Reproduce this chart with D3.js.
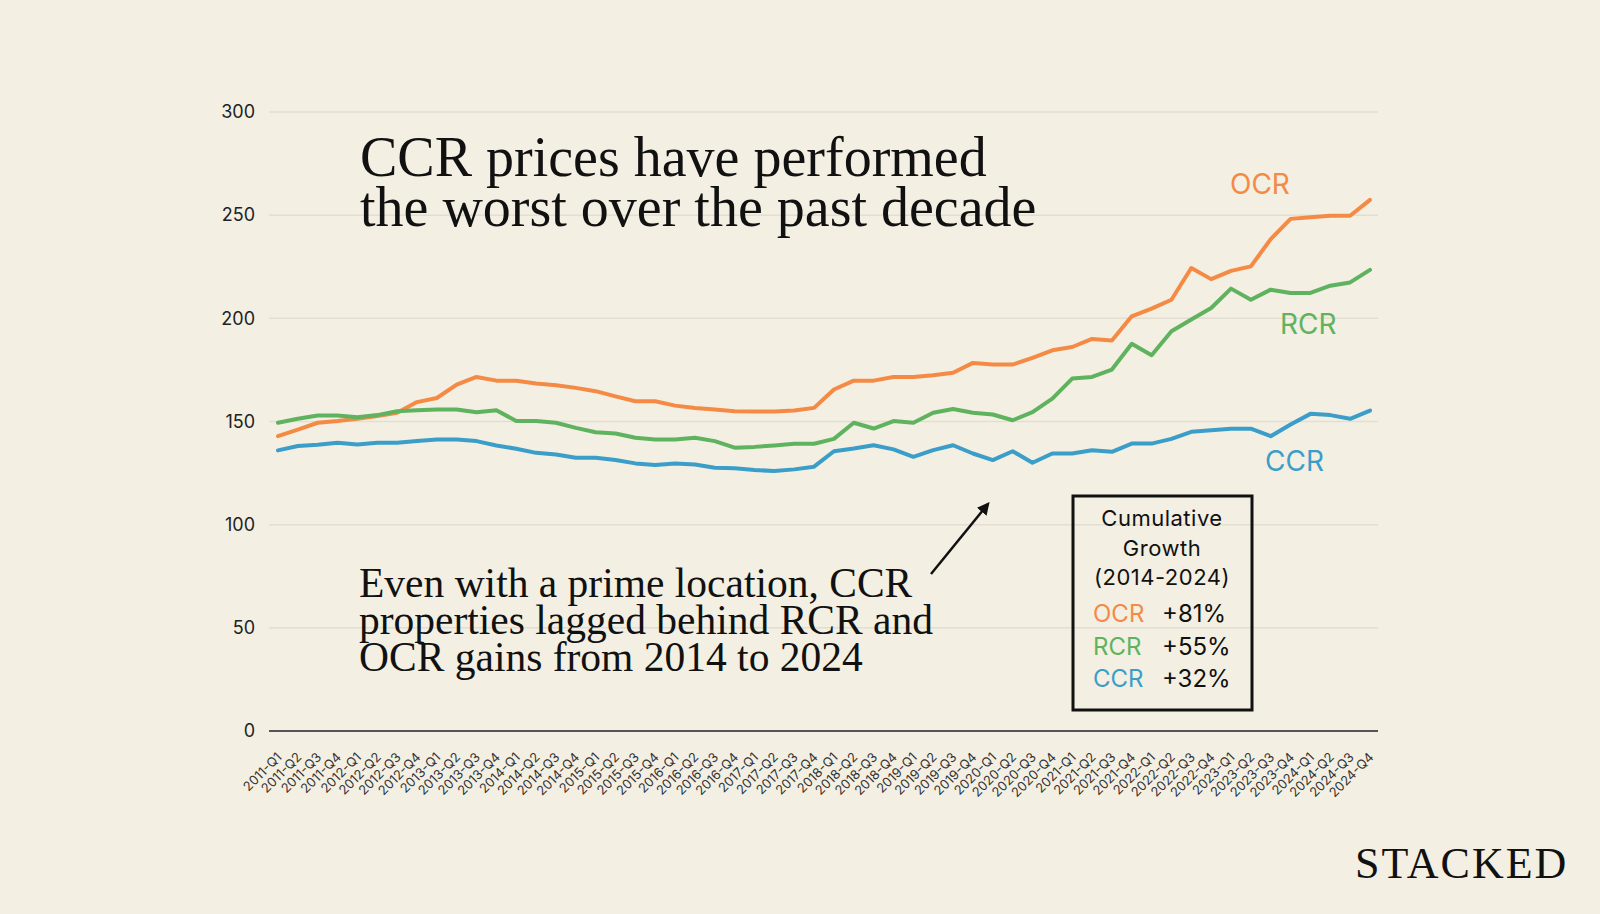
<!DOCTYPE html>
<html>
<head>
<meta charset="utf-8">
<script src="https://cdn.jsdelivr.net/npm/d3@7"></script>
<style>
  html, body { margin: 0; padding: 0; background: #f3efe3; }
  svg { display: block; }
  .serif { font-family: "Liberation Serif", "DejaVu Serif", serif; fill: #111; }
  .sans { font-family: Inter, "Noto Sans", sans-serif; }
</style>
</head>
<body>
<div id="chart"></div>
<script>
// Quarterly price index per region
const years = [2011, 2012, 2013, 2014, 2015, 2016, 2017, 2018, 2019, 2020, 2021, 2022, 2023, 2024];
const quarters = years.flatMap(y => ['Q1', 'Q2', 'Q3', 'Q4'].map(q => `${y}-${q}`));

const ocr = [142.9,146.1,149.4,150.2,151.3,152.6,154.2,159.4,161.4,167.9,
             171.6,169.8,169.8,168.4,167.6,166.3,164.7,162.2,159.8,159.8,
             157.7,156.5,155.8,155.0,154.8,154.8,155.3,156.6,165.5,169.8,
             169.8,171.6,171.6,172.4,173.6,178.4,177.6,177.6,180.8,184.5,
             186.1,190.0,189.3,201.0,204.7,209.0,224.4,219.0,223.0,225.2,
             238.4,248.2,249.0,249.7,249.7,257.4];
const rcr = [149.4,151.3,152.9,152.9,152.1,153.1,155.0,155.5,155.8,155.8,
             154.5,155.5,150.2,150.2,149.4,146.9,144.8,144.2,142.1,141.3,
             141.3,142.1,140.5,137.3,137.7,138.4,139.2,139.2,141.6,149.4,
             146.6,150.2,149.4,154.2,156.1,154.2,153.4,150.6,154.5,161.1,
             170.8,171.6,175.2,187.7,182.1,193.7,199.4,205.0,214.4,209.0,
             213.9,212.3,212.3,215.8,217.4,223.5];
const ccr = [136.0,138.1,138.7,139.7,138.9,139.7,139.7,140.5,141.3,141.3,
             140.5,138.4,136.8,134.8,134.0,132.4,132.4,131.3,129.7,128.9,
             129.7,129.2,127.6,127.3,126.5,126.0,126.8,128.1,135.6,136.9,
             138.5,136.5,132.9,136.1,138.5,134.5,131.3,135.6,130.0,134.5,
             134.5,136.1,135.3,139.3,139.3,141.6,145.0,145.8,146.5,146.5,
             142.9,148.5,153.7,153.1,151.3,155.3];

const yTicks = [0, 50, 100, 150, 200, 250, 300];
const seriesNames = ['OCR', 'RCR', 'CCR'];
const growthLabels = ['+81%', '+55%', '+32%'];
const colors = { OCR: '#f58a45', RCR: '#5fb35f', CCR: '#3a9ec9' };

const titleLines = ['CCR prices have performed', 'the worst over the past decade'];
const noteLines = ['Even with a prime location, CCR', 'properties lagged behind RCR and', 'OCR gains from 2014 to 2024'];
const boxTitle = ['Cumulative', 'Growth', '(2014-2024)'];

const W = 1600, H = 914;
const svg = d3.select('#chart').append('svg')
    .attr('width', W)
    .attr('height', H);

svg.append('rect').attr('width', W).attr('height', H).attr('fill', '#f3efe3');

const x = d3.scalePoint().domain(quarters).range([278, 1370]);
const y = d3.scaleLinear().domain([0, 300]).range([731, 112]);

// gridlines
svg.append('g')
    .selectAll('line')
    .data(yTicks.filter(d => d > 0))
    .join('line')
        .attr('x1', 269).attr('x2', 1378)
        .attr('y1', d => y(d)).attr('y2', d => y(d))
        .attr('stroke', '#e3ded1')
        .attr('stroke-width', 1.5);

// y axis labels
const yAxis = svg.append('g')
    .attr('transform', 'translate(269,0)')
    .call(d3.axisLeft(y).tickValues(yTicks).tickSize(0).tickPadding(14));
yAxis.select('.domain').remove();
yAxis.selectAll('text')
    .attr('class', 'sans')
    .attr('font-size', 18)
    .attr('fill', '#222');

// x axis
const xAxis = svg.append('g')
    .attr('transform', `translate(0,${y(0)})`)
    .call(d3.axisBottom(x).tickSize(0).tickPadding(0));
xAxis.select('.domain')
    .attr('d', `M269,0H1378`)
    .attr('stroke', '#555')
    .attr('stroke-width', 2);
xAxis.selectAll('text')
    .attr('class', 'sans')
    .attr('font-size', 13)
    .attr('fill', '#333')
    .attr('text-anchor', 'end')
    .attr('dy', null)
    .attr('y', null)
    .attr('transform', 'translate(4,27) rotate(-45)');

// lines
const seriesData = { OCR: ocr, RCR: rcr, CCR: ccr };
const line = d3.line()
    .x((d, i) => x(quarters[i]))
    .y(d => y(d));
svg.append('g')
    .selectAll('path')
    .data(seriesNames)
    .join('path')
        .attr('d', k => line(seriesData[k]))
        .attr('fill', 'none')
        .attr('stroke', k => colors[k])
        .attr('stroke-width', 4)
        .attr('stroke-linejoin', 'round')
        .attr('stroke-linecap', 'round');

// series labels
const labelPos = { OCR: [1230, 194], RCR: [1280, 334], CCR: [1265, 471] };
svg.append('g')
    .selectAll('text')
    .data(seriesNames)
    .join('text')
        .attr('class', 'sans')
        .attr('x', k => labelPos[k][0])
        .attr('y', k => labelPos[k][1])
        .attr('font-size', 28)
        .attr('fill', k => colors[k])
        .text(k => k);

// title
svg.append('g')
    .selectAll('text')
    .data(titleLines)
    .join('text')
        .attr('class', 'serif')
        .attr('x', 360)
        .attr('y', (d, i) => 176 + i * 50)
        .attr('font-size', 56)
        .text(d => d);

// note text
svg.append('g')
    .selectAll('text')
    .data(noteLines)
    .join('text')
        .attr('class', 'serif')
        .attr('x', 359)
        .attr('y', (d, i) => 597 + i * 37)
        .attr('font-size', 41.5)
        .text(d => d);

// arrow
svg.append('defs').append('marker')
    .attr('id', 'arrow')
    .attr('viewBox', '0 0 10 10')
    .attr('refX', 8).attr('refY', 5)
    .attr('markerWidth', 5).attr('markerHeight', 5)
    .attr('orient', 'auto')
    .append('path')
    .attr('d', 'M0,0L10,5L0,10z')
    .attr('fill', '#111');
svg.append('line')
    .attr('x1', 931).attr('y1', 574)
    .attr('x2', 988).attr('y2', 504)
    .attr('stroke', '#111')
    .attr('stroke-width', 2.5)
    .attr('marker-end', 'url(#arrow)');

// cumulative growth box
const box = svg.append('g');
box.append('rect')
    .attr('x', 1073).attr('y', 496)
    .attr('width', 179).attr('height', 214)
    .attr('fill', 'none')
    .attr('stroke', '#111')
    .attr('stroke-width', 3);
box.selectAll('text.head')
    .data(boxTitle)
    .join('text')
        .attr('class', 'sans head')
        .attr('x', 1162)
        .attr('y', (d, i) => 526 + i * 29.5)
        .attr('text-anchor', 'middle')
        .attr('font-size', 22)
        .attr('letter-spacing', 0.5)
        .attr('fill', '#111')
        .text(d => d);
box.selectAll('text.key')
    .data(seriesNames)
    .join('text')
        .attr('class', 'sans key')
        .attr('x', 1093)
        .attr('y', (d, i) => 622 + i * 32.5)
        .attr('font-size', 24)
        .attr('fill', k => colors[k])
        .text(k => k);
box.selectAll('text.val')
    .data(growthLabels)
    .join('text')
        .attr('class', 'sans val')
        .attr('x', 1162)
        .attr('y', (d, i) => 622 + i * 32.5)
        .attr('font-size', 24)
        .attr('fill', '#111')
        .text(d => d);

// logo
svg.append('text')
    .attr('class', 'serif')
    .attr('x', 1355)
    .attr('y', 878)
    .attr('font-size', 44)
    .attr('letter-spacing', 2)
    .text('STACKED');
</script>
</body>
</html>
